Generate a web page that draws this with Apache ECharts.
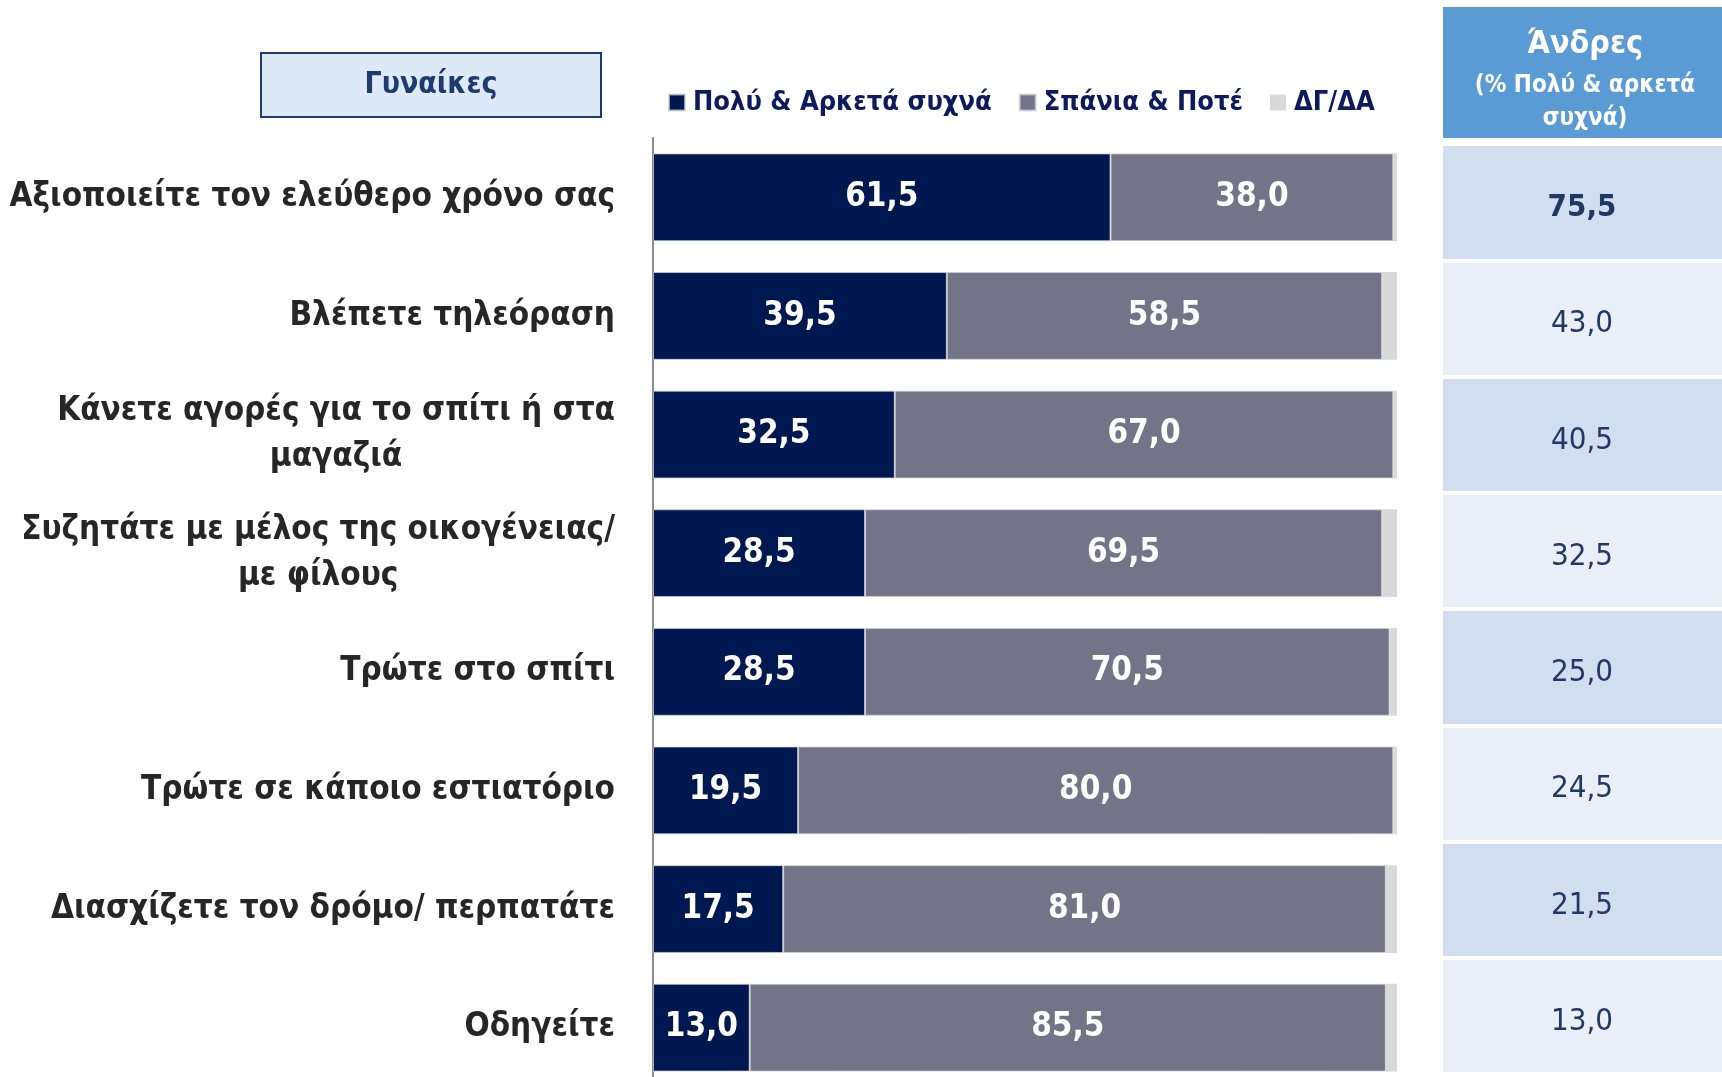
<!DOCTYPE html>
<html>
<head>
<meta charset="utf-8">
<script src="https://cdn.jsdelivr.net/npm/echarts@6/dist/echarts.min.js"></script>
<style>
  html, body { margin: 0; padding: 0; background: #fff; }
  #chart { width: 1722px; height: 1077px; }
</style>
</head>
<body>
<div id="chart"></div>
<script>
// κατηγορίες
const categories = [
  'Αξιοποιείτε τον ελεύθερο χρόνο σας',
  'Βλέπετε τηλεόραση',
  'Κάνετε αγορές για το σπίτι ή στα\nμαγαζιά',
  'Συζητάτε με μέλος της οικογένειας/\nμε φίλους',
  'Τρώτε στο σπίτι',
  'Τρώτε σε κάποιο εστιατόριο',
  'Διασχίζετε τον δρόμο/ περπατάτε',
  'Οδηγείτε'
];
// Γυναίκες (%)
const womenOften = [61.5, 39.5, 32.5, 28.5, 28.5, 19.5, 17.5, 13.0];
const womenRare = [38.0, 58.5, 67.0, 69.5, 70.5, 80.0, 81.0, 85.5];
const womenDk = [0.5, 2.0, 0.5, 2.0, 1.0, 0.5, 1.5, 1.5];
// Άνδρες (% Πολύ & αρκετά συχνά)
const menOften = [75.5, 43.0, 40.5, 32.5, 25.0, 24.5, 21.5, 13.0];
const seriesNames = ['Πολύ & Αρκετά συχνά', 'Σπάνια & Ποτέ', 'ΔΓ/ΔΑ'];

const FONT = "'Liberation Sans Narrow', 'Arial Narrow', 'DejaVu Sans Condensed', sans-serif";
const fmt = v => v.toFixed(1).replace('.', ',');

const myChart = echarts.init(document.getElementById('chart'));

const barLabel = {
  show: true,
  position: 'inside',
  color: '#fff',
  fontFamily: FONT,
  fontWeight: 'bold',
  fontSize: 33,
  formatter: p => fmt(p.value)
};

const option = {
  backgroundColor: '#fff',
  animation: false,
  color: ['#001850', '#737488', '#d9d9d9'],
  textStyle: { fontFamily: FONT },
  legend: {
    left: 663,
    top: 84,
    itemWidth: 16,
    itemHeight: 16,
    itemGap: 27,
    icon: 'rect',
    textStyle: { color: '#0d1b5e', fontFamily: FONT, fontWeight: 'bold', fontSize: 27, padding: [0, 0, 0, 3] },
    data: seriesNames
  },
  grid: [
    { left: 653, width: 744, top: 138, height: 949, outerBoundsMode: 'none' },
    { left: 1443, right: 0, top: 144, height: 930, outerBoundsMode: 'none' }
  ],
  xAxis: [
    { gridIndex: 0, type: 'value', min: 0, max: 100, show: false },
    { gridIndex: 1, type: 'value', min: 0, max: 1, show: false }
  ],
  yAxis: [
    {
      gridIndex: 0,
      type: 'category',
      inverse: true,
      data: categories,
      axisLine: { show: true, lineStyle: { color: '#8c8c8c', width: 2 } },
      axisTick: { show: false },
      axisLabel: {
        margin: 38,
        color: '#262626',
        fontFamily: FONT,
        fontWeight: 'bold',
        fontSize: 33,
        lineHeight: 46,
        formatter: v => v.split('\n').map(s => '{c|' + s + '}').join('\n'),
        rich: { c: { align: 'center', fontFamily: FONT, fontWeight: 'bold', fontSize: 33, lineHeight: 46, color: '#262626' } }
      }
    },
    {
      gridIndex: 1,
      type: 'category',
      inverse: true,
      data: menOften.map(fmt),
      axisLine: { show: false },
      axisTick: { show: false },
      axisLabel: {
        inside: true,
        align: 'center',
        margin: 139,
        formatter: (v, i) => (i === 0 ? '{b|' + v + '}' : '{n|' + v + '}'),
        rich: {
          b: { fontFamily: FONT, fontWeight: 'bold', fontSize: 31, color: '#1f3864', padding: [12, 0, 0, 0] },
          n: { fontFamily: FONT, fontSize: 31, color: '#1f3864', padding: [12, 0, 0, 0] }
        }
      },
      splitArea: { show: true, areaStyle: { color: ['#d2ddef', '#e9eef7'] } },
      splitLine: { show: true, lineStyle: { color: '#fff', width: 4 } }
    }
  ],
  series: [
    { name: seriesNames[0], type: 'bar', stack: 'w', barWidth: '74%', data: womenOften, label: barLabel,
      itemStyle: { borderColor: 'rgba(210,210,215,0.7)', borderWidth: 1 } },
    { name: seriesNames[1], type: 'bar', stack: 'w', data: womenRare, label: barLabel,
      itemStyle: { borderColor: 'rgba(210,210,215,0.7)', borderWidth: 1 } },
    { name: seriesNames[2], type: 'bar', stack: 'w', data: womenDk, label: { show: false } }
  ],
  graphic: [
    {
      type: 'group', left: 260, top: 52,
      children: [
        { type: 'rect', shape: { x: 0, y: 0, width: 340, height: 64 },
          style: { fill: '#dde9f6', stroke: '#1f3a6e', lineWidth: 2 } },
        { type: 'text', x: 170, y: 32,
          style: { text: 'Γυναίκες', fill: '#1f3a6e', font: 'bold 30px ' + FONT, align: 'center', verticalAlign: 'middle' } }
      ]
    },
    {
      type: 'group', left: 1443, top: 7,
      children: [
        { type: 'rect', shape: { x: 0, y: 0, width: 279, height: 131 }, style: { fill: '#5b9bd5' } },
        { type: 'text', x: 142, y: 38,
          style: { text: 'Άνδρες', fill: '#fff', font: 'bold 32px ' + FONT, align: 'center', verticalAlign: 'middle' } },
        { type: 'text', x: 142, y: 79,
          style: { text: '(% Πολύ & αρκετά', fill: '#fff', font: 'bold 24px ' + FONT, align: 'center', verticalAlign: 'middle' } },
        { type: 'text', x: 142, y: 112,
          style: { text: 'συχνά)', fill: '#fff', font: 'bold 24px ' + FONT, align: 'center', verticalAlign: 'middle' } }
      ]
    }
  ]
};

window.onresize = myChart.resize;
myChart.setOption(option);
</script>
</body>
</html>
